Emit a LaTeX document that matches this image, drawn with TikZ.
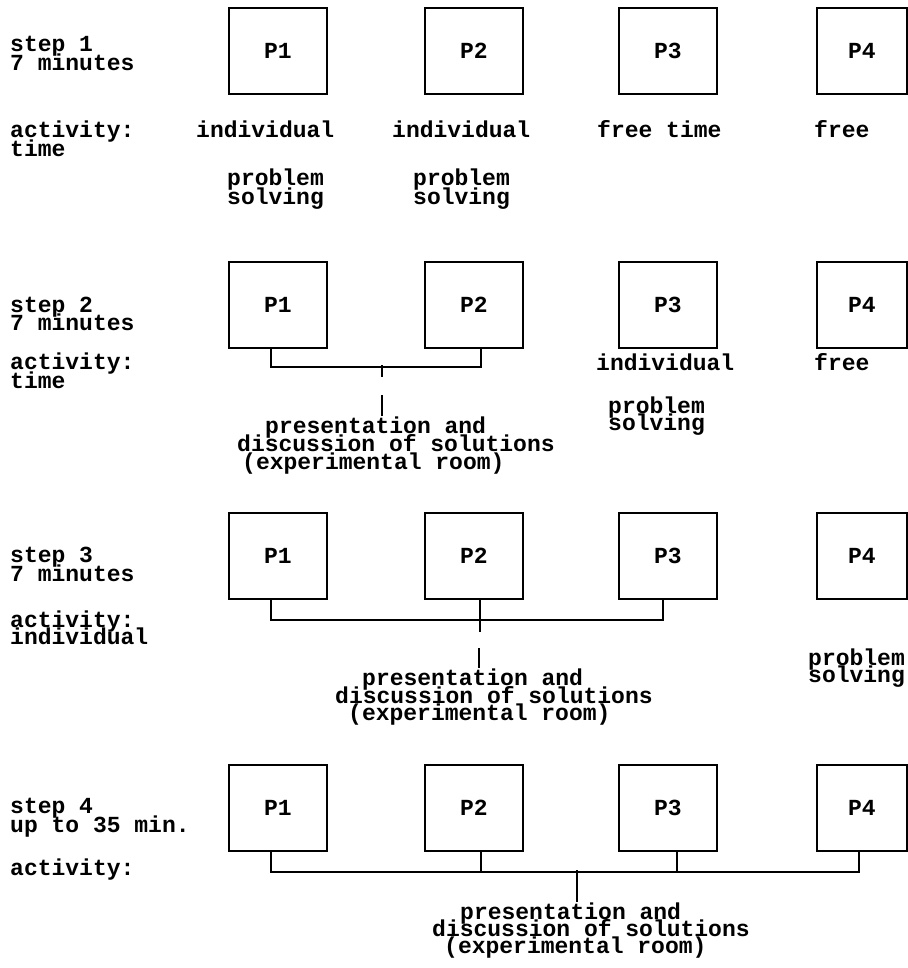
\documentclass[tikz,border=0pt]{standalone}
\usepackage{fontspec}
\setmainfont{Liberation Mono}
\usetikzlibrary{calc}
\tikzset{
  txt/.style={font=\fontsize{23}{18}\selectfont\bfseries, inner sep=0pt, anchor=base west},
  pbox/.style={draw, line width=1.8pt, minimum width=98pt, minimum height=86pt, inner sep=0pt,
    anchor=north west, font=\fontsize{23}{18}\selectfont\bfseries},
  pboxr/.style={pbox, minimum width=90pt},
  conn/.style={line width=1.8pt}
}
\begin{document}
\begin{tikzpicture}[x=1pt,y=-1pt]
\useasboundingbox (0,0) rectangle (907,968);
% ---------- step 1
\node[txt] (l1a) at (10,52) {step 1};
\node[txt] (l1b) at (10,71) {7 minutes};
\node[txt] (l1c) at (10,138) {activity:};
\node[txt] (l1d) at (10,157) {time};
\node[pbox] (a1) at (228,7) {P1};
\node[pbox] (a2) at (424,7) {P2};
\node[pbox] (a3) at (618,7) {P3};
\node[pboxr] (a4) at (816,7) {P4};
\node[txt] (a1t) at (196,138) {individual};
\node[txt] (a2t) at (392,138) {individual};
\node[txt] (a3t) at (597,138) {free time};
\node[txt] (a4t) at (814,138) {free};
\node[txt] (a1p) at (227,186) {problem};
\node[txt] (a1s) at (227,205) {solving};
\node[txt] (a2p) at (413,186) {problem};
\node[txt] (a2s) at (413,205) {solving};
% ---------- step 2
\node[txt] (l2a) at (10,312) {step 2};
\node[txt] (l2b) at (10,330) {7 minutes};
\node[txt] (l2c) at (10,369) {activity:};
\node[txt] (l2d) at (10,388) {time};
\node[pbox] (b1) at (228,261) {P1};
\node[pbox] (b2) at (424,261) {P2};
\node[pbox] (b3) at (618,261) {P3};
\node[pboxr] (b4) at (816,261) {P4};
\node[txt] (b3t) at (596,370) {individual};
\node[txt] (b4t) at (814,370) {free};
\node[txt] (b3p) at (608,413) {problem};
\node[txt] (b3s) at (608,430) {solving};
\node[txt] (bt1) at (265,433) {presentation and};
\node[txt] (bt2) at (237,451) {discussion of solutions};
\node[txt] (bt3) at (242,469) {(experimental room)};
\draw[conn] ([xshift=-7pt]b1.south) -- ++(0,18) -| ([xshift=7pt]b2.south);
\coordinate (bj) at (382,365);
\draw[conn] (bj) -- ++(0,12);
\coordinate (bg) at (382,395);
\draw[conn] (bg) -- (bg |- bt1.north);
% ---------- step 3
\node[txt] (l3a) at (10,562) {step 3};
\node[txt] (l3b) at (10,581) {7 minutes};
\node[txt] (l3c) at (10,627) {activity:};
\node[txt] (l3d) at (10,644) {individual};
\node[pbox] (c1) at (228,512) {P1};
\node[pbox] (c2) at (424,512) {P2};
\node[pbox] (c3) at (618,512) {P3};
\node[pboxr] (c4) at (816,512) {P4};
\node[txt] (c4p) at (808,665) {problem};
\node[txt] (c4s) at (808,682) {solving};
\node[txt] (ct1) at (362,685) {presentation and};
\node[txt] (ct2) at (335,703) {discussion of solutions};
\node[txt] (ct3) at (348,720) {(experimental room)};
\draw[conn] ([xshift=-7pt]c1.south) -- ++(0,20) -| ([xshift=-5pt]c3.south);
\draw[conn] ([xshift=6pt]c2.south) -- ++(0,32);
\coordinate (cg) at (479,648);
\draw[conn] (cg) -- (cg |- ct1.north);
% ---------- step 4
\node[txt] (l4a) at (10,813) {step 4};
\node[txt] (l4b) at (10,832) {up to 35 min.};
\node[txt] (l4c) at (10,875) {activity:};
\node[pbox] (d1) at (228,764) {P1};
\node[pbox] (d2) at (424,764) {P2};
\node[pbox] (d3) at (618,764) {P3};
\node[pboxr] (d4) at (816,764) {P4};
\node[txt] (dt1) at (460,919) {presentation and};
\node[txt] (dt2) at (432,936) {discussion of solutions};
\node[txt] (dt3) at (444,953) {(experimental room)};
\draw[conn] ([xshift=-7pt]d1.south) -- ++(0,20) -| ([xshift=-3pt]d4.south);
\draw[conn] ([xshift=7pt]d2.south) -- ++(0,20);
\draw[conn] ([xshift=9pt]d3.south) -- ++(0,20);
\coordinate (dj) at (577,870);
\draw[conn] (dj) -- (dj |- dt1.north);
\end{tikzpicture}
\end{document}
